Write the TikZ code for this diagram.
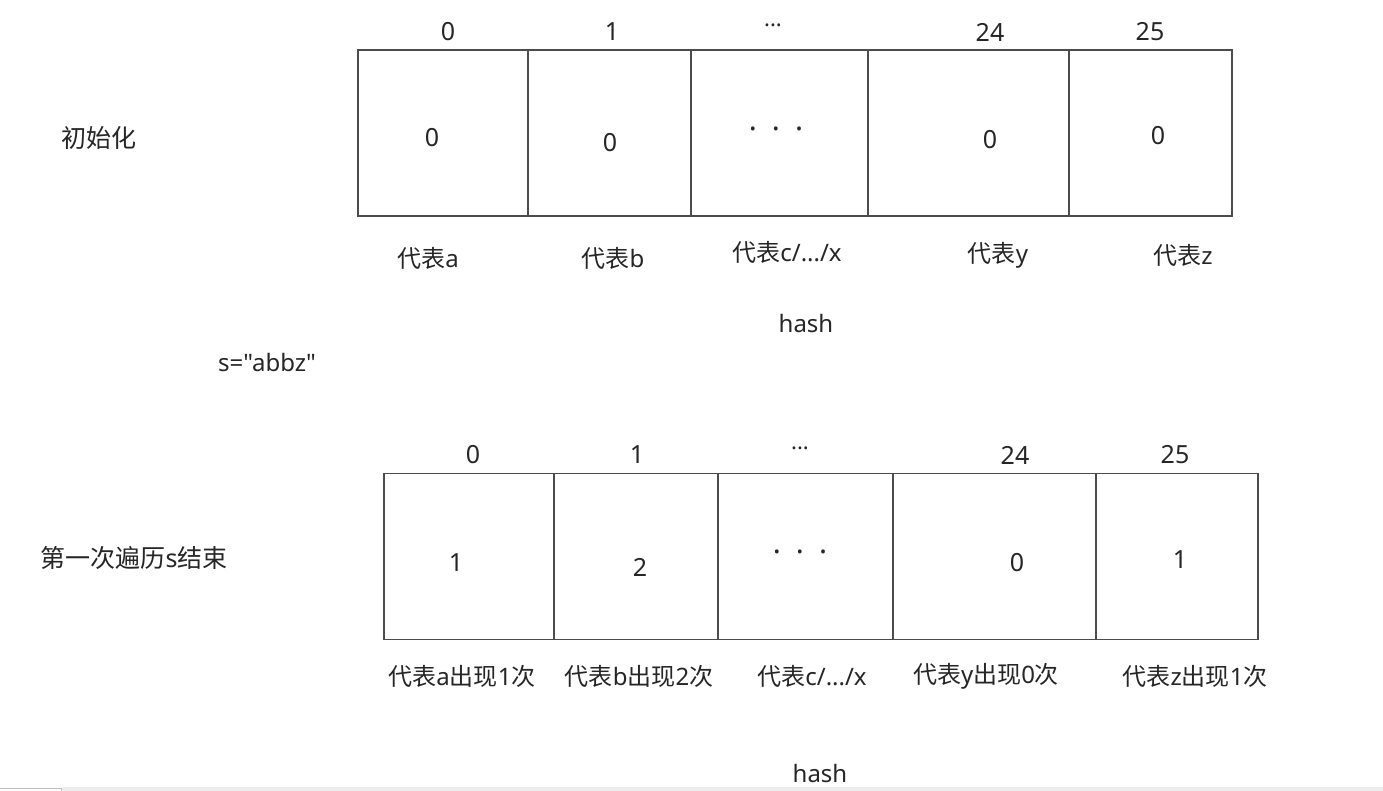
\documentclass[tikz,border=0pt]{standalone}
\usepackage{fontspec}
\setmainfont{Noto Sans}
\newfontfamily\plainfont{Noto Sans}[Ligatures=ResetAll]
\newfontfamily\cjk{Noto Sans CJK SC}
\begin{document}
\begin{tikzpicture}[x=1pt,y=-1pt,
  cell/.style={draw=black!70,line width=1.3pt,inner sep=0pt,minimum height=166pt},
  idx/.style={font=\fontsize{25}{27}\selectfont,text=black!85,inner sep=0pt},
  val/.style={font=\fontsize{25}{27}\selectfont,text=black!85,inner sep=0pt},
  dots/.style={font=\fontsize{22}{24}\selectfont,text=black!85,inner sep=0pt},
  mdots/.style={font=\fontsize{30}{32}\selectfont,text=black!85,inner sep=0pt},
  lbl/.style={font=\fontsize{24}{26}\selectfont,text=black!85,inner sep=0pt},
  side/.style={font=\fontsize{25}{27}\selectfont\cjk,text=black!85,inner sep=0pt}]
\useasboundingbox (0,0) rectangle (1383,791);
\fill[white] (0,0) rectangle (1383,791);
% top array
\node[cell,minimum width=170pt] (t0) at (443,133) {};
\node[cell,minimum width=163pt] (t1) at (609.5,133) {};
\node[cell,minimum width=177pt] (t2) at (779.5,133) {};
\node[cell,minimum width=201pt] (t3) at (968.5,133) {};
\node[cell,minimum width=163pt] (t4) at (1150.5,133) {};
\node[idx] (ti0) at (448,32) {0};
\node[idx] (ti1) at (612,32) {1};
\node[dots] (ti2) at (773,25) {...};
\node[idx] (ti3) at (990,32) {24};
\node[idx] (ti4) at (1150,32) {25};
\node[val] (tv0) at (432,138) {0};
\node[val] (tv1) at (610,143) {0};
\node[mdots] (tv2) at (776,133) {·\enspace·\enspace·};
\node[val] (tv3) at (990,140) {0};
\node[val] (tv4) at (1158,136) {0};
\node[lbl] (tl0) at (428,258) {{\cjk 代表}a};
\node[lbl] (tl1) at (613,258) {{\cjk 代表}b};
\node[lbl] (tl2) at (787,252) {{\cjk 代表}c/.../x};
\node[lbl] (tl3) at (998,255) {{\cjk 代表}y};
\node[lbl] (tl4) at (1183,255) {{\cjk 代表}z};
\node[lbl] (th) at (806,324) {hash};
\node[side] (init) at (99,138) {初始化};
\node[lbl] (s) at (267,362) {\plainfont s="abbz"};
% bottom array
\node[cell,minimum width=170pt] (b0) at (469,556.5) {};
\node[cell,minimum width=164pt] (b1) at (636,556.5) {};
\node[cell,minimum width=175pt] (b2) at (805.5,556.5) {};
\node[cell,minimum width=203pt] (b3) at (994.5,556.5) {};
\node[cell,minimum width=162pt] (b4) at (1177,556.5) {};
\node[idx] (bi0) at (473,455) {0};
\node[idx] (bi1) at (637,455) {1};
\node[dots] (bi2) at (800,448) {...};
\node[idx] (bi3) at (1015,455) {24};
\node[idx] (bi4) at (1175,455) {25};
\node[val] (bv0) at (456,563) {1};
\node[val] (bv1) at (640,567) {2};
\node[mdots] (bv2) at (800,556) {·\enspace·\enspace·};
\node[val] (bv3) at (1017,563) {0};
\node[val] (bv4) at (1180,560) {1};
\node[lbl] (bl0) at (462,676) {{\cjk 代表}a{\cjk 出现}1{\cjk 次}};
\node[lbl] (bl1) at (639,676) {{\cjk 代表}b{\cjk 出现}2{\cjk 次}};
\node[lbl] (bl2) at (812,676) {{\cjk 代表}c/.../x};
\node[lbl] (bl3) at (986,676) {{\cjk 代表}y{\cjk 出现}0{\cjk 次}};
\node[lbl] (bl4) at (1195,676) {{\cjk 代表}z{\cjk 出现}1{\cjk 次}};
\node[lbl] (bh) at (820,773) {hash};
\node[side] (first) at (134,558) {第一次遍历{\rmfamily s}结束};
% bottom strip
\fill[black!7] (62,787) rectangle (1383,791);
\draw[black!25,line width=0.8pt] (0,788) -- (61,788) -- (61,791);
\end{tikzpicture}
\end{document}
